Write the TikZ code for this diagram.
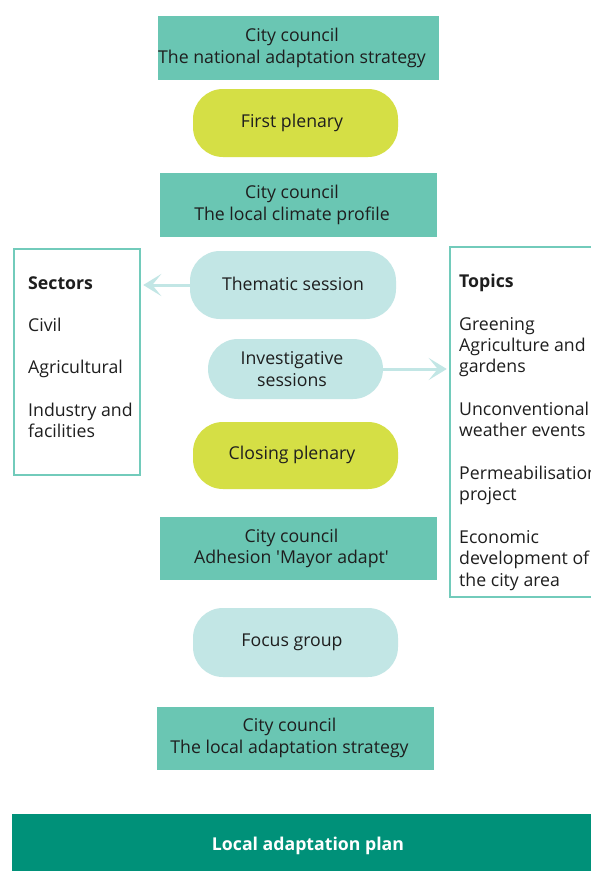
\documentclass[tikz,border=0pt]{standalone}
\usepackage{fontspec}
\setmainfont{Open Sans}
\usetikzlibrary{arrows.meta}
\definecolor{councilc}{HTML}{6AC6B3}
\definecolor{plenc}{HTML}{D5DF45}
\definecolor{sessc}{HTML}{C2E6E5}
\definecolor{planc}{HTML}{009179}
\definecolor{borderc}{HTML}{72CBBB}
\definecolor{txt}{HTML}{1E1E1E}
\newcommand{\fs}{\fontsize{17.7}{21.3}\selectfont}
\newcommand{\lsh}[2]{#2\hspace*{#1}}
\tikzset{
  council/.style={fill=councilc, draw=none, minimum width=277pt, minimum height=64pt, align=center, inner sep=0pt, font=\fs, text=txt},
  pill/.style={draw=none, rounded corners=30pt, minimum width=205pt, minimum height=68pt, align=center, inner sep=0pt, font=\fs, text=txt},
  plen/.style={pill, fill=plenc},
  sess/.style={pill, fill=sessc},
  listbox/.style={draw=borderc, line width=2.5pt, fill=white, inner sep=0pt},
  listtext/.style={align=left, inner sep=0pt, font=\fs, text=txt},
  arr/.style={draw=sessc, line width=3pt, -{Stealth[length=18pt,width=22pt,inset=9pt]}, shorten >=2pt}
}
\begin{document}
\begin{tikzpicture}[x=1pt,y=-1pt]
\useasboundingbox (0,0) rectangle (591,871);
\clip (0,0) rectangle (591,871);
\fill[white] (0,0) rectangle (591,871);

\node[council] (c1) at (298.5,48) {\lsh{13pt}{City council}\\\lsh{13pt}{The national adaptation strategy}};
\node[plen] (p1) at (295.5,123) {\lsh{7pt}{First plenary}};
\node[council] (c2) at (298.5,205) {\lsh{13pt}{City council}\\\lsh{13pt}{The local climate profile}};
\node[sess, minimum width=206pt] (them) at (293,285) {\raisebox{2pt}{Thematic session}};
\node[sess, minimum width=175pt, minimum height=60pt] (inv) at (295.5,369) {\lsh{7pt}{Investigative}\\\lsh{7pt}{sessions}};
\node[plen, minimum height=67pt] (p2) at (295.5,455.5) {\raisebox{5pt}{\lsh{7pt}{Closing plenary}}};
\node[council, minimum height=63pt] (c3) at (298.5,548.5) {\lsh{14pt}{City council}\\\lsh{14pt}{Adhesion \textquotesingle Mayor adapt\textquotesingle}};
\node[sess, minimum height=69pt] (fg) at (295.5,642.5) {\raisebox{3pt}{\lsh{7pt}{Focus group}}};
\node[council, minimum height=63pt] (c4) at (295.5,738) {\lsh{12pt}{City council}\\\lsh{12pt}{The local adaptation strategy}};
\node[fill=planc, minimum width=592pt, minimum height=64pt, inner sep=0pt, text=white, font=\fs\bfseries] (plan) at (308,846) {Local adaptation plan};

\node[listbox, minimum width=126pt, minimum height=226pt] (sec) at (77,362) {};
\node[listtext, anchor=north west] (sectext) at (28,274) {\rule{0pt}{15pt}\textbf{Sectors}\\[21pt]Civil\\[21pt]Agricultural\\[21pt]Industry and\\facilities};

\node[listbox, minimum width=170pt, minimum height=350pt] (top) at (535,422) {};
\node[listtext, anchor=north west] (toptext) at (459,272) {\rule{0pt}{15pt}\textbf{Topics}\\[21.5pt]Greening\\Agriculture and\\gardens\\[21.5pt]Unconventional\\weather events\\[21.5pt]Permeabilisation\\project\\[21.5pt]Economic\\development of\\the city area};

\draw[arr] (them.west) -- (them.west -| sec.east);
\draw[arr] (inv.east) -- (inv.east -| top.west);
\end{tikzpicture}
\end{document}
